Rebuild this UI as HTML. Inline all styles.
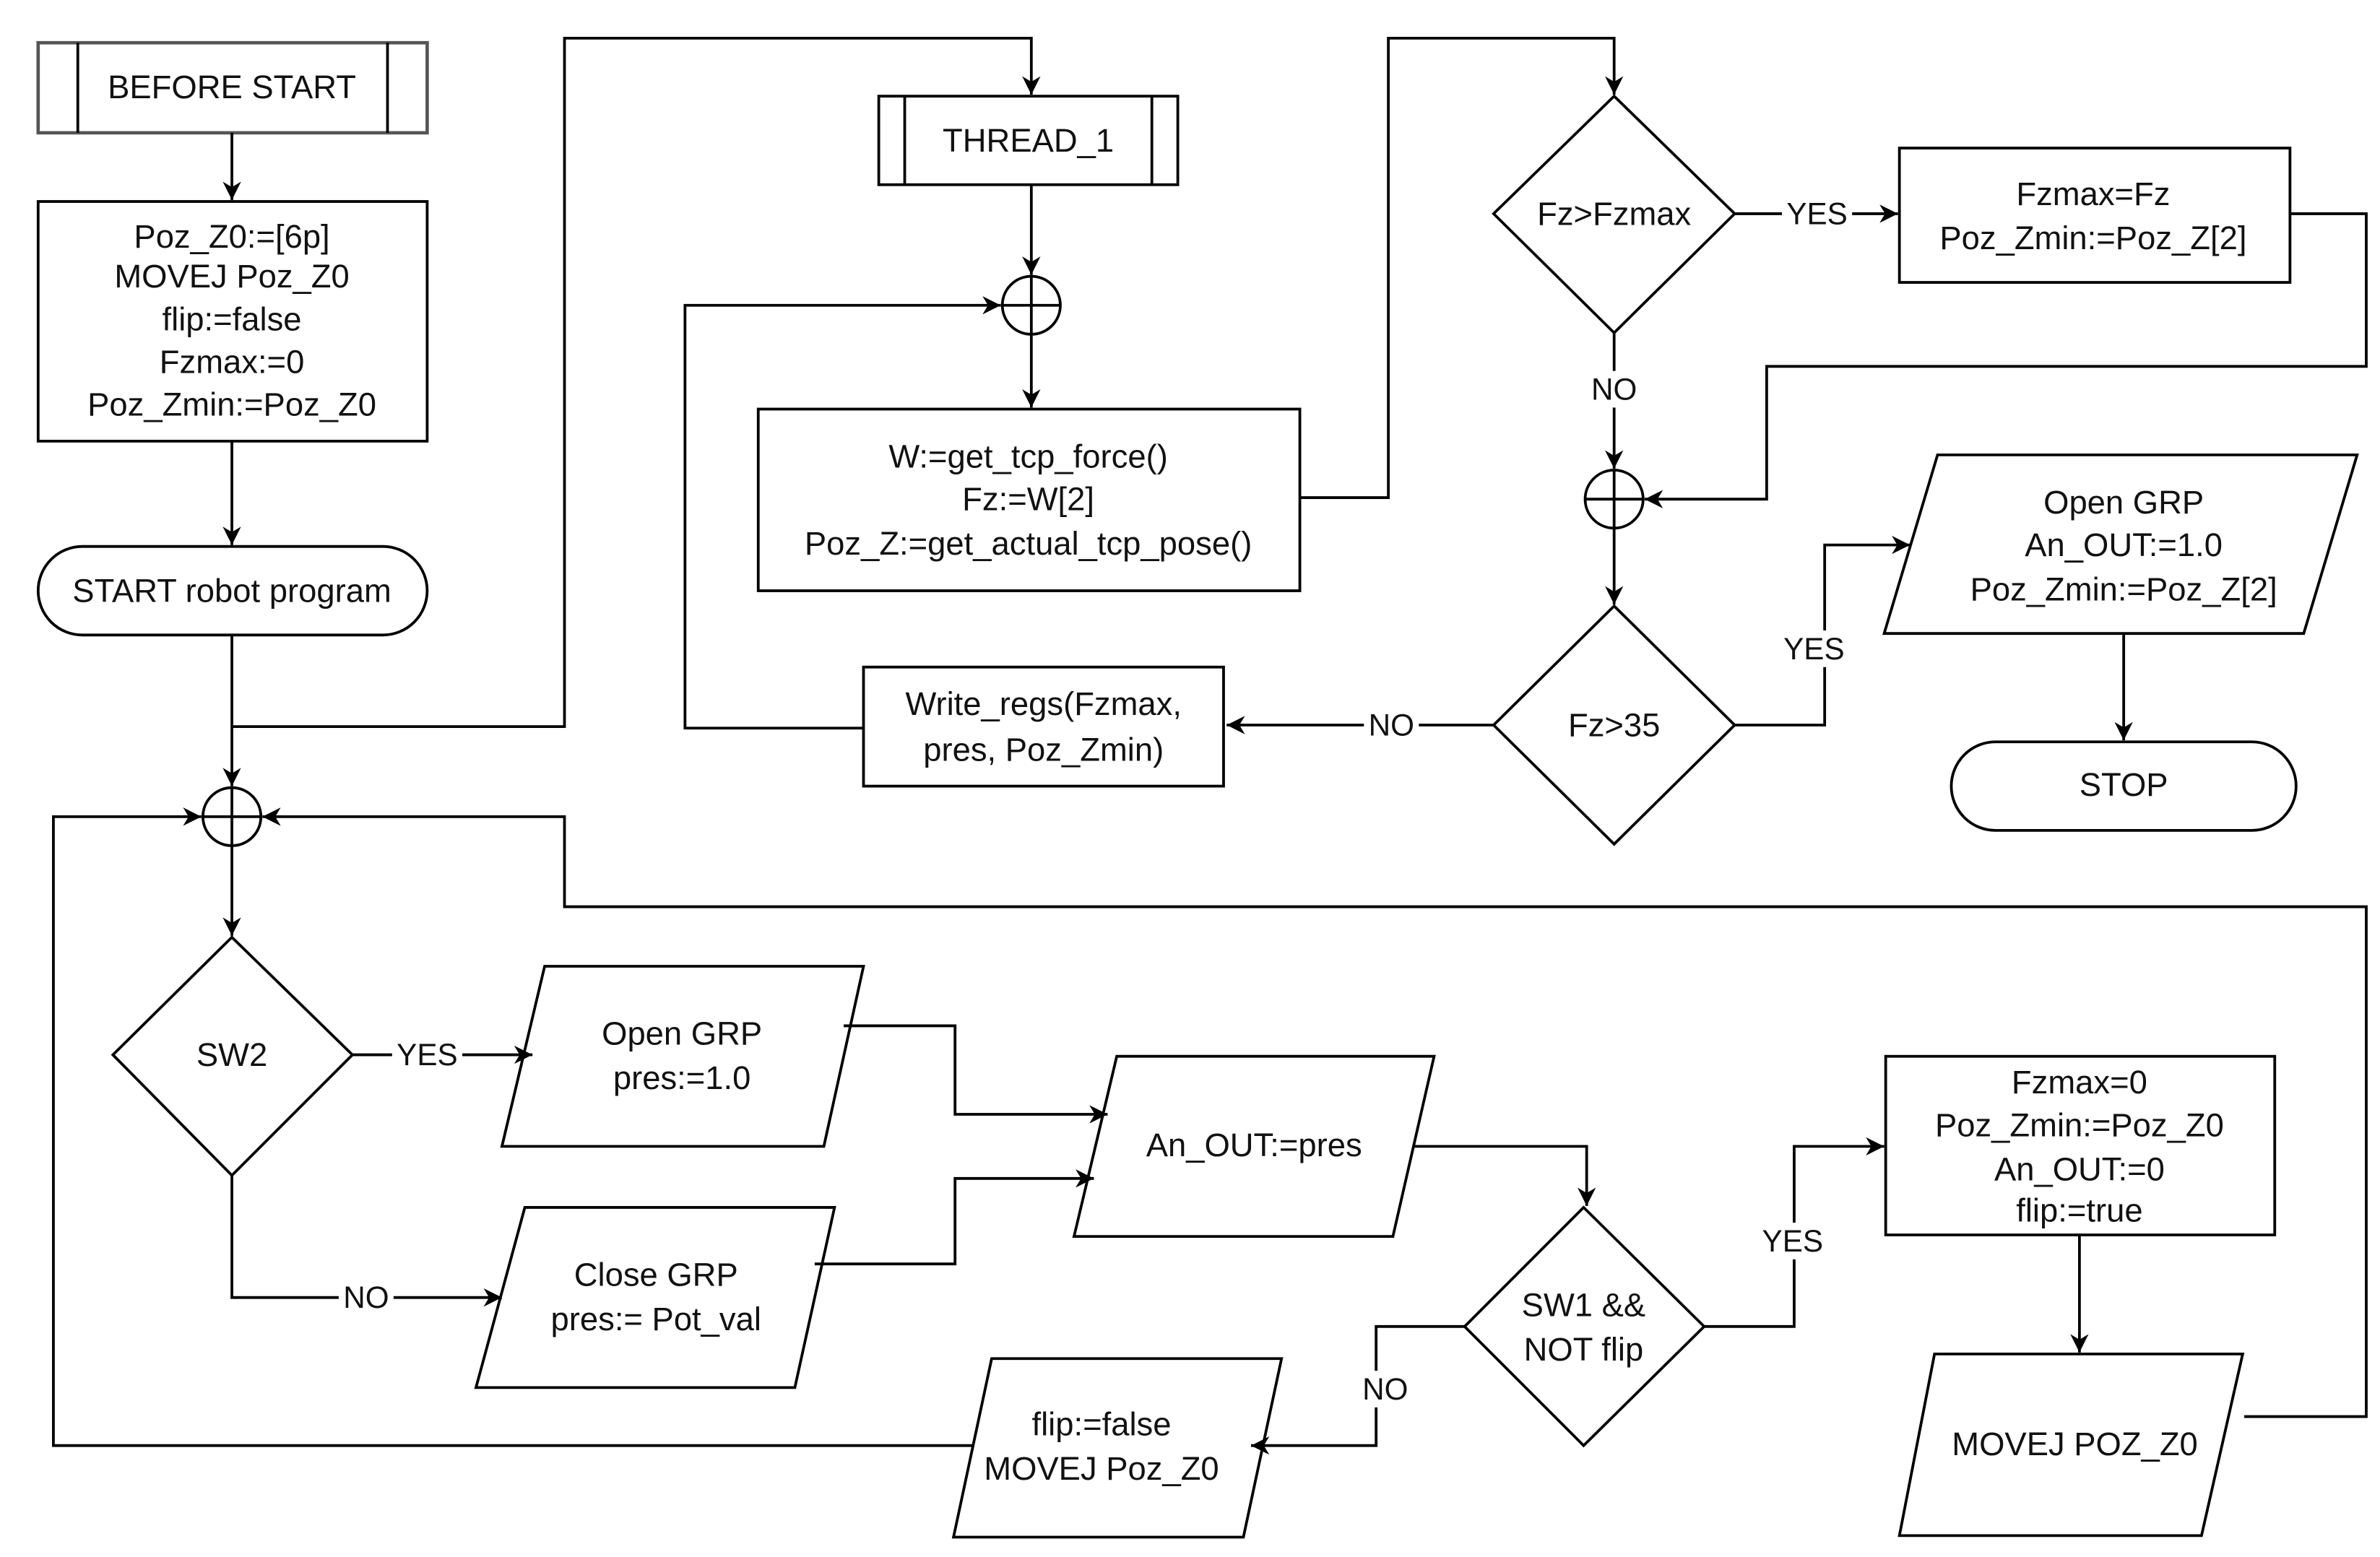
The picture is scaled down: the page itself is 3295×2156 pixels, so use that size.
<!DOCTYPE html>
<html><head><meta charset="utf-8"><style>
html,body{margin:0;padding:0;background:#fff;}
svg{display:block;}
text{font-family:"Liberation Sans",Arial,sans-serif;font-size:21.5px;fill:#111;text-anchor:middle;dominant-baseline:central;}
.lbl{font-size:20px;}
</style></head><body>
<svg width="3295" height="2156" viewBox="0 0 1560 1020" preserveAspectRatio="none" xmlns="http://www.w3.org/2000/svg">
<defs>
<marker id="a" viewBox="0 0 10 10" refX="10" refY="5" markerWidth="12" markerHeight="12" markerUnits="userSpaceOnUse" orient="auto">
<path d="M0,0 L10,5 L0,10 L3,5 z" fill="#000"/>
</marker>
</defs>
<g fill="none" stroke="#000" stroke-width="1.8">
<rect x="25" y="28" width="255" height="59" stroke="#555" stroke-width="2.2"/>
<line x1="51" y1="28" x2="51" y2="87"/><line x1="254" y1="28" x2="254" y2="87"/>
<line x1="152" y1="87" x2="152" y2="131" marker-end="url(#a)"/>
<rect x="25" y="132" width="255" height="157"/>
<line x1="152" y1="289" x2="152" y2="357" marker-end="url(#a)"/>
<rect x="25" y="358" width="255" height="58" rx="29"/>
<polyline points="152,416 152,515" marker-end="url(#a)"/>
<polyline points="152,476 370,476 370,25 676,25 676,62" marker-end="url(#a)"/>
<rect x="576" y="63" width="196" height="58"/>
<line x1="593" y1="63" x2="593" y2="121"/><line x1="755" y1="63" x2="755" y2="121"/>
<line x1="676" y1="121" x2="676" y2="180" marker-end="url(#a)"/>
<circle cx="676" cy="200" r="19"/><line x1="657" y1="200" x2="695" y2="200"/><line x1="676" y1="181" x2="676" y2="219"/>
<polyline points="566,477 449,477 449,200 656,200" marker-end="url(#a)"/>
<line x1="676" y1="219" x2="676" y2="267" marker-end="url(#a)"/>
<rect x="497" y="268" width="355" height="119"/>
<polyline points="852,326 910,326 910,25 1058,25 1058,62" marker-end="url(#a)"/>
<polygon points="1058,63 1137,140 1058,218 979,140"/>
<line x1="1137" y1="140" x2="1244" y2="140" marker-end="url(#a)"/>
<rect x="1245" y="97" width="256" height="88"/>
<polyline points="1501,140 1551,140 1551,240 1158,240 1158,327 1078,327" marker-end="url(#a)"/>
<line x1="1058" y1="218" x2="1058" y2="307" marker-end="url(#a)"/>
<circle cx="1058" cy="327" r="19"/><line x1="1039" y1="327" x2="1077" y2="327"/><line x1="1058" y1="308" x2="1058" y2="346"/>
<line x1="1058" y1="346" x2="1058" y2="396" marker-end="url(#a)"/>
<polygon points="1058,397 1137,475 1058,553 979,475"/>
<polyline points="1137,475 1196,475 1196,357 1252,357" marker-end="url(#a)"/>
<polygon points="1270,298 1545,298 1510,415 1235,415"/>
<line x1="1392" y1="415" x2="1392" y2="485" marker-end="url(#a)"/>
<rect x="1279" y="486" width="226" height="58" rx="29"/>
<line x1="979" y1="475" x2="804" y2="475" marker-end="url(#a)"/>
<rect x="566" y="437" width="236" height="78"/>
<circle cx="152" cy="535" r="19"/><line x1="133" y1="535" x2="171" y2="535"/><line x1="152" y1="516" x2="152" y2="554"/>
<polyline points="637,947 35,947 35,535 132,535" marker-end="url(#a)"/>
<polyline points="1471,928 1551,928 1551,594 370,594 370,535 172,535" marker-end="url(#a)"/>
<line x1="152" y1="554" x2="152" y2="613" marker-end="url(#a)"/>
<polygon points="152,614 231,691 152,770 74,691"/>
<line x1="231" y1="691" x2="349" y2="691" marker-end="url(#a)"/>
<polygon points="357,633 566,633 540,751 329,751"/>
<polyline points="553,672 626,672 626,730 726,730" marker-end="url(#a)"/>
<polygon points="732,692 940,692 913,810 704,810"/>
<polyline points="152,770 152,850 329,850" marker-end="url(#a)"/>
<polygon points="344,791 547,791 521,909 312,909"/>
<polyline points="534,828 626,828 626,772 717,772" marker-end="url(#a)"/>
<polyline points="926,751 1040,751 1040,790" marker-end="url(#a)"/>
<polygon points="1038,791 1117,869 1038,947 960,869"/>
<polyline points="1117,869 1176,869 1176,751 1235,751" marker-end="url(#a)"/>
<rect x="1236" y="692" width="255" height="117"/>
<line x1="1363" y1="809" x2="1363" y2="886" marker-end="url(#a)"/>
<polygon points="1268,887 1470,887 1443,1006 1245,1006"/>
<polyline points="960,869 902,869 902,947 820,947" marker-end="url(#a)"/>
<polygon points="650,890 840,890 815,1007 625,1007"/>
</g>
<g fill="#fff">
<rect x="1168" y="128" width="46" height="24"/>
<rect x="1040" y="243" width="36" height="24"/>
<rect x="1166" y="413" width="46" height="24"/>
<rect x="894" y="463" width="36" height="24"/>
<rect x="257" y="679" width="46" height="24"/>
<rect x="222" y="838" width="36" height="24"/>
<rect x="1152" y="801" width="46" height="24"/>
<rect x="890" y="898" width="36" height="24"/>
</g>
<text x="152" y="57">BEFORE START</text>
<text x="152" y="155">Poz_Z0:=[6p]</text>
<text x="152" y="181">MOVEJ Poz_Z0</text>
<text x="152" y="209">flip:=false</text>
<text x="152" y="237">Fzmax:=0</text>
<text x="152" y="265">Poz_Zmin:=Poz_Z0</text>
<text x="152" y="387">START robot program</text>
<text x="674" y="92">THREAD_1</text>
<text x="674" y="299">W:=get_tcp_force()</text>
<text x="674" y="327">Fz:=W[2]</text>
<text x="674" y="356">Poz_Z:=get_actual_tcp_pose()</text>
<text x="1058" y="140">Fz&gt;Fzmax</text>
<text x="1372" y="127">Fzmax=Fz</text>
<text x="1372" y="156">Poz_Zmin:=Poz_Z[2]</text>
<text x="1058" y="475">Fz&gt;35</text>
<text x="1392" y="329">Open GRP</text>
<text x="1392" y="357">An_OUT:=1.0</text>
<text x="1392" y="386">Poz_Zmin:=Poz_Z[2]</text>
<text x="1392" y="514">STOP</text>
<text x="684" y="461">Write_regs(Fzmax,</text>
<text x="684" y="491">pres, Poz_Zmin)</text>
<text x="152" y="691">SW2</text>
<text x="447" y="677">Open GRP</text>
<text x="447" y="706">pres:=1.0</text>
<text x="822" y="750">An_OUT:=pres</text>
<text x="430" y="835">Close GRP</text>
<text x="430" y="864">pres:= Pot_val</text>
<text x="1038" y="855">SW1 &amp;&amp;</text>
<text x="1038" y="884">NOT flip</text>
<text x="1363" y="709">Fzmax=0</text>
<text x="1363" y="737">Poz_Zmin:=Poz_Z0</text>
<text x="1363" y="766">An_OUT:=0</text>
<text x="1363" y="793">flip:=true</text>
<text x="1360" y="946">MOVEJ POZ_Z0</text>
<text x="722" y="933">flip:=false</text>
<text x="722" y="962">MOVEJ Poz_Z0</text>
<text class="lbl" x="1191" y="140">YES</text>
<text class="lbl" x="1058" y="255">NO</text>
<text class="lbl" x="1189" y="425">YES</text>
<text class="lbl" x="912" y="475">NO</text>
<text class="lbl" x="280" y="691">YES</text>
<text class="lbl" x="240" y="850">NO</text>
<text class="lbl" x="1175" y="813">YES</text>
<text class="lbl" x="908" y="910">NO</text>
</svg>
</body></html>
